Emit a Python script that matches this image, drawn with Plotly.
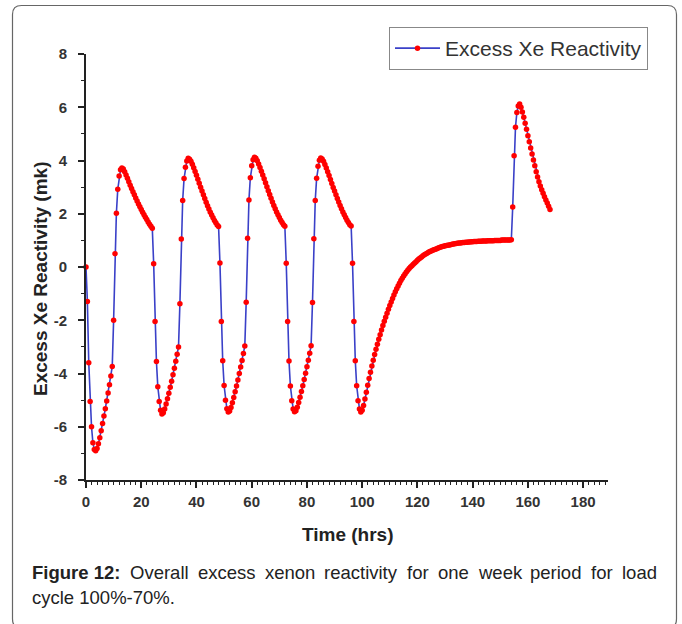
import plotly.graph_objects as go

# ---------------- data ----------------
time_step_hrs = 0.5
segment_start_hrs = [0, 24, 48, 72, 96, 154]

cycle1_mk = [
    0.00, -1.30, -3.60, -5.05, -6.00, -6.60, -6.85, -6.90, -6.82, -6.64,
    -6.41, -6.15, -5.88, -5.60, -5.32, -5.03, -4.73, -4.42, -4.09, -3.74,
    -2.00, 0.50, 2.02, 2.92, 3.42, 3.65, 3.72, 3.68, 3.58, 3.46,
    3.33, 3.20, 3.07, 2.95, 2.83, 2.71, 2.59, 2.48, 2.37, 2.26,
    2.16, 2.06, 1.96, 1.87, 1.78, 1.69, 1.61, 1.53,
]
cycle2_mk = [
    1.46, 0.12, -2.05, -3.55, -4.50, -5.05, -5.38, -5.52, -5.47, -5.33,
    -5.15, -4.95, -4.74, -4.52, -4.29, -4.05, -3.80, -3.54, -3.28, -3.00,
    -1.38, 1.05, 2.50, 3.32, 3.75, 3.98, 4.08, 4.05, 3.97, 3.86,
    3.73, 3.59, 3.45, 3.30, 3.15, 3.00, 2.85, 2.71, 2.57, 2.43,
    2.30, 2.18, 2.06, 1.95, 1.85, 1.75, 1.66, 1.58,
]
cycle3_mk = [
    1.52, 0.15, -2.05, -3.52, -4.45, -5.00, -5.32, -5.45, -5.41, -5.28,
    -5.10, -4.90, -4.69, -4.47, -4.24, -4.00, -3.76, -3.51, -3.25, -2.97,
    -1.32, 1.08, 2.52, 3.35, 3.80, 4.03, 4.12, 4.08, 3.99, 3.87,
    3.74, 3.60, 3.46, 3.31, 3.16, 3.01, 2.86, 2.72, 2.58, 2.44,
    2.31, 2.19, 2.07, 1.96, 1.86, 1.76, 1.67, 1.59,
]
cycle4_mk = [
    1.53, 0.14, -2.05, -3.53, -4.47, -5.02, -5.33, -5.44, -5.40, -5.27,
    -5.09, -4.89, -4.68, -4.46, -4.23, -3.99, -3.75, -3.50, -3.24, -2.96,
    -1.33, 1.06, 2.50, 3.33, 3.78, 4.01, 4.09, 4.06, 3.97, 3.85,
    3.72, 3.58, 3.44, 3.29, 3.14, 2.99, 2.85, 2.71, 2.57, 2.44,
    2.31, 2.19, 2.07, 1.96, 1.86, 1.76, 1.67, 1.59,
]
cycle5_mk = [
    1.54, 0.14, -2.05, -3.52, -4.46, -5.02, -5.33, -5.45, -5.38, -5.20,
    -4.96, -4.70, -4.44, -4.19, -3.95, -3.72, -3.50, -3.29, -3.09, -2.90,
    -2.71, -2.54, -2.37, -2.20, -2.04, -1.89, -1.74, -1.59, -1.45, -1.31,
    -1.18, -1.05, -0.93, -0.82, -0.71, -0.61, -0.51, -0.42, -0.34, -0.26,
    -0.19, -0.12, -0.06, 0.00, 0.05, 0.10, 0.15, 0.20, 0.25, 0.30,
    0.34, 0.38, 0.42, 0.46, 0.49, 0.52, 0.55, 0.58, 0.60, 0.63,
    0.65, 0.67, 0.69, 0.71, 0.73, 0.75, 0.77, 0.78, 0.80, 0.81,
    0.82, 0.83, 0.84, 0.85, 0.86, 0.87, 0.88, 0.89, 0.90, 0.90,
    0.91, 0.92, 0.92, 0.93, 0.93, 0.94, 0.94, 0.95, 0.95, 0.96,
    0.96, 0.96, 0.97, 0.97, 0.97, 0.98, 0.98, 0.98, 0.98, 0.99,
    0.99, 0.99, 0.99, 0.99, 1.00, 1.00, 1.00, 1.00, 1.00, 1.01,
    1.01, 1.01, 1.01, 1.01, 1.01, 1.01,
]
final_mk = [
    1.02, 2.25, 4.18, 5.25, 5.80, 6.05, 6.12, 6.00, 5.82, 5.62,
    5.40, 5.17, 4.93, 4.70, 4.47, 4.24, 4.02, 3.80, 3.58, 3.38,
    3.20, 3.04, 2.90, 2.77, 2.64, 2.52, 2.40, 2.28, 2.16,
]

x_tick_vals = [0, 20, 40, 60, 80, 100, 120, 140, 160, 180]
y_tick_vals = [-8, -6, -4, -2, 0, 2, 4, 6, 8]
y_tick_text = ["-8", "-6", "-4", "-2", "0", "2", "4", "6", "8"]

series_name = "Excess Xe Reactivity"
x_title = "Time (hrs)"
y_title = "Excess Xe Reactivity (mk)"
caption_words = ["<b>Figure 12:</b>", "Overall", "excess", "xenon", "reactivity",
                 "for", "one", "week", "period", "for", "load"]
caption_line2 = "cycle 100%-70%."

# ---------------- assemble series ----------------
segments = [cycle1_mk, cycle2_mk, cycle3_mk, cycle4_mk, cycle5_mk, final_mk]
time_hrs, reactivity_mk = [], []
for start, seg in zip(segment_start_hrs, segments):
    for i, v in enumerate(seg):
        time_hrs.append(start + i * time_step_hrs)
        reactivity_mk.append(v)

# ---------------- layout helpers (pixel -> paper) ----------------
W, H = 682, 624
L, R, T, B = 86, 608, 54, 480


def px_x(p):
    return (p - L) / (R - L)


def px_y(p):
    return (B - p) / (B - T)


FONT = "Liberation Sans, Arial, Helvetica, sans-serif"
INK = "#222222"

fig = go.Figure()
fig.add_trace(go.Scatter(
    x=time_hrs, y=reactivity_mk, name=series_name,
    mode="lines+markers",
    line=dict(color="#3a40c8", width=1.6),
    marker=dict(color="#ff0000", size=5.5, line=dict(width=0)),
    cliponaxis=False,
))

axis_common = dict(
    showline=True, linecolor=INK, linewidth=2,
    ticks="outside", ticklen=6, tickwidth=1.5, tickcolor=INK,
    showgrid=False, zeroline=False,
    tickfont=dict(family=FONT, size=15, color="#333333", weight="bold"),
)

fig.update_xaxes(
    range=[0, 189], tickmode="array", tickvals=x_tick_vals,
    ticklabelstandoff=1,
    minor=dict(ticks="outside", tick0=0, dtick=2, ticklen=3, tickwidth=1, tickcolor=INK),
    **axis_common,
)
fig.update_yaxes(
    range=[-8, 8], tickmode="array", tickvals=y_tick_vals, ticktext=y_tick_text,
    ticklabelstandoff=8,
    minor=dict(ticks="outside", tick0=0, dtick=1, ticklen=3, tickwidth=1, tickcolor=INK),
    **axis_common,
)

annotations = [
    dict(text="<b>" + y_title + "</b>", xref="paper", yref="paper",
         x=px_x(40), y=px_y(279), xanchor="center", yanchor="middle",
         textangle=-90, showarrow=False,
         font=dict(family=FONT, size=19, color=INK)),
    dict(text="<b>" + x_title + "</b>", xref="paper", yref="paper",
         x=px_x(348), y=px_y(534), xanchor="center", yanchor="middle",
         showarrow=False, font=dict(family=FONT, size=19, color=INK)),
]

# justified caption line: word widths (em, Arial metrics) spread between 30 and 655 px
CAP_SIZE = 18.5
word_em = [4.779, 3.167, 3.112, 2.724, 3.945, 1.167, 1.668, 2.334, 2.779, 1.167, 1.890]
line_left, line_right = 30, 655
total_w = sum(word_em) * CAP_SIZE
gap = (line_right - line_left - total_w) / (len(word_em) - 1)
xpos = line_left
for word, em in zip(caption_words, word_em):
    annotations.append(dict(
        text=word, xref="paper", yref="paper", x=px_x(xpos), y=px_y(572),
        xanchor="left", yanchor="middle", showarrow=False,
        font=dict(family=FONT, size=CAP_SIZE, color=INK)))
    xpos += em * CAP_SIZE + gap
annotations.append(dict(
    text=caption_line2, xref="paper", yref="paper", x=px_x(30), y=px_y(597),
    xanchor="left", yanchor="middle", showarrow=False,
    font=dict(family=FONT, size=CAP_SIZE, color=INK)))

# rounded outer frame (open at the bottom edge of the picture)
x0, x1 = px_x(12.5), px_x(676.5)
yt, yb = px_y(5.5), px_y(628)
rx, ry = 9 / (R - L), 9 / (B - T)
frame_path = (
    f"M {x0 + rx},{yt} L {x1 - rx},{yt} Q {x1},{yt} {x1},{yt - ry} "
    f"L {x1},{yb + ry} Q {x1},{yb} {x1 - rx},{yb} "
    f"L {x0 + rx},{yb} Q {x0},{yb} {x0},{yb + ry} "
    f"L {x0},{yt - ry} Q {x0},{yt} {x0 + rx},{yt} Z"
)

fig.update_layout(
    width=W, height=H,
    margin=dict(l=L, r=W - R, t=T, b=H - B, autoexpand=False),
    paper_bgcolor="white", plot_bgcolor="white",
    showlegend=True,
    legend=dict(
        x=px_x(648), y=px_y(27), xanchor="right", yanchor="top",
        bgcolor="white", bordercolor="#888888", borderwidth=1,
        font=dict(family=FONT, size=21, color="#333333"),
        itemwidth=45, tracegroupgap=0,
    ),
    annotations=annotations,
    shapes=[dict(type="path", path=frame_path, xref="paper", yref="paper",
                 line=dict(color="#666666", width=1.2), layer="below")],
)

fig.write_html("out.html")
